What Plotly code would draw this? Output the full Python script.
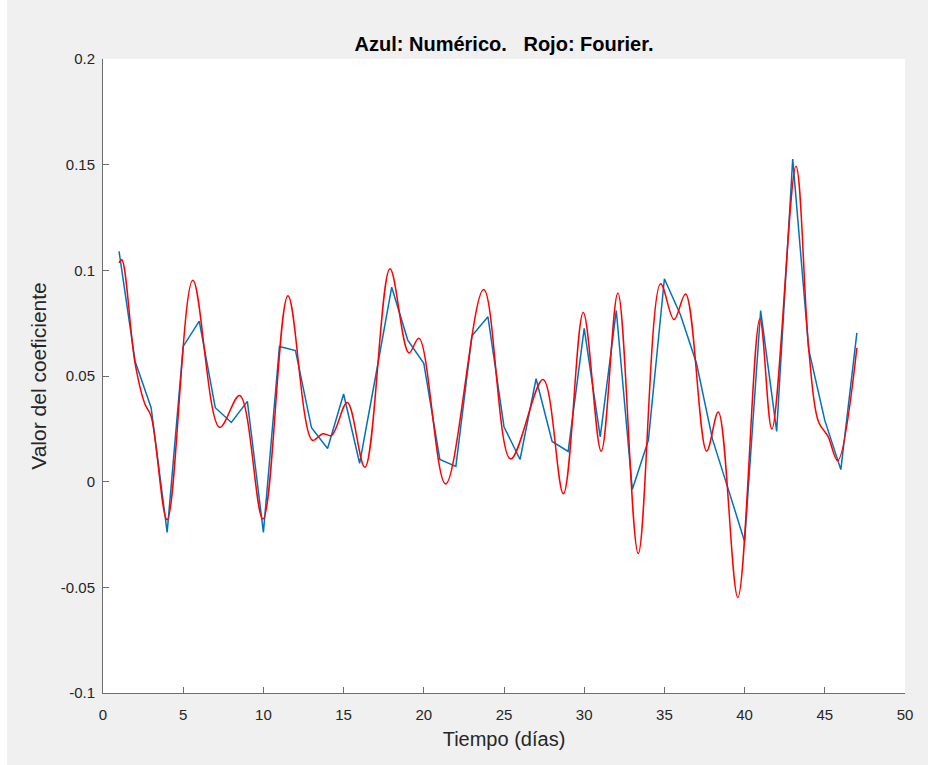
import plotly.graph_objects as go

# Blue: numerical solution, one value per day
dias = list(range(1, 48))
numerico = [
    0.109, 0.057, 0.035, -0.024, 0.064, 0.076, 0.035, 0.028, 0.038, -0.024,
    0.064, 0.062, 0.0255, 0.0157, 0.0415, 0.0087, 0.050, 0.092, 0.067, 0.056,
    0.0105, 0.0072, 0.069, 0.078, 0.026, 0.0105, 0.0487, 0.019, 0.0143, 0.0725,
    0.0212, 0.081, -0.0037, 0.0196, 0.096, 0.079, 0.056, 0.020, -0.004, -0.0283,
    0.081, 0.0238, 0.1527, 0.0625, 0.029, 0.0057, 0.0704,
]

# Red: Fourier reconstruction, read at its turning points
t_fourier = [
    1.0, 1.17, 2.0, 2.6, 3.0, 4.0, 5.6, 7.27, 8.52, 9.97,
    11.53, 13.05, 13.7, 14.25, 15.23, 16.33, 17.89, 19.07, 19.7, 21.36,
    23.73, 25.41, 27.43, 28.7, 29.94, 31.06, 32.1, 33.37, 34.76, 35.6,
    36.32, 37.63, 38.36, 39.58, 40.95, 41.7, 43.2, 44.0, 44.6, 45.2, 45.8, 47.0,
]
fourier = [
    0.1035, 0.105, 0.056, 0.037, 0.031, -0.018, 0.0953, 0.0257, 0.0408, -0.0177,
    0.088, 0.0196, 0.0227, 0.0219, 0.0375, 0.0068, 0.1007, 0.0609, 0.0678, -0.0011,
    0.0909, 0.0107, 0.0483, -0.0057, 0.0801, 0.0144, 0.0893, -0.034, 0.0937, 0.0767,
    0.0888, 0.0144, 0.033, -0.0548, 0.077, 0.0249, 0.1492, 0.0625, 0.0285, 0.0214, 0.010, 0.0633,
]

x_ticks = [0, 5, 10, 15, 20, 25, 30, 35, 40, 45, 50]
y_ticks = [-0.1, -0.05, 0, 0.05, 0.1, 0.15, 0.2]
y_ticktext = ["-0.1", "-0.05", "0", "0.05", "0.1", "0.15", "0.2"]

FONT = "Liberation Sans, Arial, Helvetica, sans-serif"
TXT = "#262626"
LINE = "#6E6E6E"

fig = go.Figure()
fig.add_trace(go.Scatter(x=dias, y=numerico, mode="lines",
                         line=dict(color="#0072BD", width=1.5), name="Numérico"))
fig.add_trace(go.Scatter(x=t_fourier, y=fourier, mode="lines",
                         line=dict(color="#FF0000", width=1.5, shape="spline", smoothing=1),
                         name="Fourier"))

fig.update_layout(
    width=928, height=765,
    margin=dict(l=103, r=23, t=59, b=72),
    paper_bgcolor="#F0F0F0",
    plot_bgcolor="#FFFFFF",
    showlegend=False,
    font=dict(family=FONT, size=15, color=TXT),
    title=dict(text="<b>Azul: Numérico.\u00a0\u00a0\u00a0Rojo: Fourier.</b>",
               x=504 / 928, xanchor="center", y=1 - 44 / 765, yanchor="middle",
               font=dict(family=FONT, size=20, color="#000000")),
    xaxis=dict(range=[0, 50], tickvals=x_ticks, ticktext=[str(v) for v in x_ticks],
               showgrid=False, zeroline=False, showline=True, linecolor=LINE, linewidth=1,
               ticks="inside", ticklen=6, tickcolor=LINE, tickfont=dict(size=15, color=TXT),
               ticklabelstandoff=8,
               title=dict(text="Tiempo (días)", font=dict(size=20, color=TXT), standoff=9),
               mirror=False),
    yaxis=dict(range=[-0.1, 0.2], tickvals=y_ticks, ticktext=y_ticktext,
               showgrid=False, zeroline=False, showline=True, linecolor=LINE, linewidth=1,
               ticks="inside", ticklen=6, tickcolor=LINE, tickfont=dict(size=15, color=TXT),
               ticklabelstandoff=4,
               title=dict(text="Valor del coeficiente", font=dict(size=21, color=TXT), standoff=8),
               mirror=False),
    shapes=[
        dict(type="rect", xref="paper", yref="paper", x0=-0.2, x1=1.2,
             y0=1 + 59 / 634, y1=1 + 70 / 634, fillcolor="#FFFFFF", line=dict(width=0), layer="above"),
        dict(type="rect", xref="paper", yref="paper", x0=-0.2, x1=-96 / 802,
             y0=-0.2, y1=1.2, fillcolor="#FFFFFF", line=dict(width=0), layer="above"),
    ],
)

fig.write_html("out.html")
